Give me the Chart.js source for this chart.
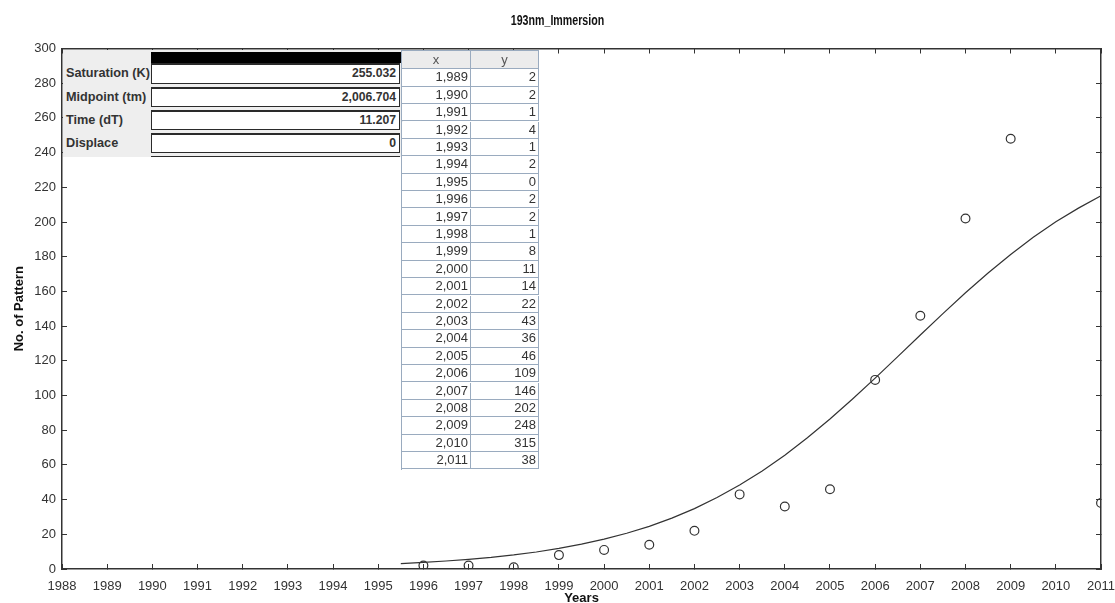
<!DOCTYPE html>
<html>
<head>
<meta charset="utf-8">
<title>193nm_Immersion</title>
<script src="https://cdn.jsdelivr.net/npm/chart.js@4.4.1/dist/chart.umd.min.js"></script>
<style>
  html, body { margin: 0; padding: 0; background: #ffffff; }
  #wrap { position: relative; width: 1115px; height: 603px; overflow: hidden; background: #ffffff; }
  #chart { position: absolute; left: 0; top: 0; }
  #heading {
    position: absolute; left: 0; top: 11px; width: 1115px; text-align: center;
    font: bold 14px "Liberation Sans", Arial, sans-serif; color: #111111; line-height: 18px;
  }
  #heading span { display: inline-block; transform: scaleX(0.76); transform-origin: 50% 50%; }
  #params {
    position: absolute; left: 63px; top: 50px; width: 340px; height: 107px;
    background: #eeeeee; overflow: hidden;
    font: bold 12.7px "Liberation Sans", Arial, sans-serif; color: #333333;
  }
  #params .bar { position: absolute; left: 88px; top: 1.7px; width: 250px; height: 11px; background: #000000; }
  #params .lbl { position: absolute; left: 3px; width: 84px; white-space: nowrap; }
  #params .box {
    position: absolute; left: 88px; width: 249px; box-sizing: border-box;
    background: #ffffff; border: 1px solid #2a2a2a; border-top-width: 2px;
    text-align: right; padding-right: 3px; white-space: nowrap;
    font: bold 12.2px "Liberation Sans", Arial, sans-serif; color: #333333;
  }
  #grid {
    position: absolute; left: 401px; top: 50px; width: 137px;
    border-left: 1px solid #9aabbf; border-top: 1px solid #9aabbf;
    font: 13px "Liberation Sans", Arial, sans-serif; color: #333333;
  }
  #grid .cell {
    position: absolute; box-sizing: border-box; white-space: nowrap;
    border-right: 1px solid #9aabbf; border-bottom: 1px solid #9aabbf;
    text-align: right; padding-right: 2px; background: #ffffff;
  }
  #grid .head { background: #ececec; text-align: center; padding-right: 0; color: #555555; }
</style>
</head>
<body>
<div id="wrap">
  <canvas id="chart" width="1115" height="603"></canvas>
  <div id="heading"><span>193nm_Immersion</span></div>
  <div id="params"></div>
  <div id="grid"></div>
</div>
<script>
// Observed counts per year (table on the chart)
const tableYears  = [1989, 1990, 1991, 1992, 1993, 1994, 1995, 1996, 1997, 1998, 1999, 2000,
                     2001, 2002, 2003, 2004, 2005, 2006, 2007, 2008, 2009, 2010, 2011];
const tableCounts = [2, 2, 1, 4, 1, 2, 0, 2, 2, 1, 8, 11,
                     14, 22, 43, 36, 46, 109, 146, 202, 248, 315, 38];

// Only these years are drawn as markers
const firstMarkerYear = 1996;

// Fitted growth curve
const curveYears  = [1995.5, 1996, 1996.5, 1997, 1997.5, 1998, 1998.5, 1999, 1999.5, 2000, 2000.5,
                     2001, 2001.5, 2002, 2002.5, 2003, 2003.5, 2004, 2004.5, 2005, 2005.5, 2006,
                     2006.5, 2007, 2007.5, 2008, 2008.5, 2009, 2009.5, 2010, 2010.5, 2011];
const curveValues = [3.1, 3.8, 4.6, 5.6, 6.7, 8.1, 9.8, 11.9, 14.3, 17.2, 20.6,
                     24.6, 29.3, 34.8, 41.2, 48.4, 56.5, 65.6, 75.6, 86.5, 98.0, 110.0,
                     122.4, 134.9, 147.2, 159.2, 170.6, 181.3, 191.2, 200.1, 208.0, 215.1];

// Fit parameters shown in the panel
const paramLabels = ["Saturation (K)", "Midpoint (tm)", "Time (dT)", "Displace"];
const paramValues = ["255.032", "2,006.704", "11.207", "0"];

// Axis ranges and tick spacing
const xRange = [1988, 2011];
const xStep = 1;
const yRange = [0, 300];
const yStep = 20;

const FONT = '"Liberation Sans", Arial, Helvetica, sans-serif';
const INK = '#333333';

function fmtThousands(v) {
  return v.toLocaleString('en-US');
}

// ---- parameter panel ----
(function buildParams() {
  const panel = document.getElementById('params');
  const bar = document.createElement('div');
  bar.className = 'bar';
  panel.appendChild(bar);
  const rowTop = 13.3, rowGap = 23.2, rowH = 20.6;
  paramLabels.forEach((label, i) => {
    const top = rowTop + i * rowGap;
    const l = document.createElement('div');
    l.className = 'lbl';
    l.style.top = top + 'px';
    l.style.lineHeight = rowH + 'px';
    l.textContent = label;
    panel.appendChild(l);
    const b = document.createElement('div');
    b.className = 'box';
    b.style.top = top + 'px';
    b.style.height = rowH + 'px';
    b.style.lineHeight = (rowH - 3) + 'px';
    b.textContent = paramValues[i];
    panel.appendChild(b);
  });
  // next (scrolled) row, only its top edge shows
  const extra = document.createElement('div');
  extra.className = 'box';
  extra.style.top = (rowTop + paramLabels.length * rowGap) + 'px';
  extra.style.height = rowH + 'px';
  panel.appendChild(extra);
})();

// ---- x / y table ----
(function buildGrid() {
  const grid = document.getElementById('grid');
  const colLeft = [0, 69], colW = [69, 68];
  const headH = 18.3, rowH = 17.4;
  function cell(text, left, top, w, h, cls) {
    const d = document.createElement('div');
    d.className = 'cell' + (cls ? ' ' + cls : '');
    d.style.left = left + 'px';
    d.style.top = top + 'px';
    d.style.width = w + 'px';
    d.style.height = h + 'px';
    d.style.lineHeight = (h - 1) + 'px';
    d.textContent = text;
    grid.appendChild(d);
  }
  cell('x', colLeft[0], 0, colW[0], headH, 'head');
  cell('y', colLeft[1], 0, colW[1], headH, 'head');
  tableYears.forEach((yr, i) => {
    const top = headH + i * rowH;
    cell(fmtThousands(yr), colLeft[0], top, colW[0], rowH);
    cell(String(tableCounts[i]), colLeft[1], top, colW[1], rowH);
  });
  grid.style.height = (headH + tableYears.length * rowH) + 'px';
})();

// ---- chart ----
const markerPoints = tableYears
  .map((yr, i) => ({ x: yr, y: tableCounts[i] }))
  .filter(p => p.x >= firstMarkerYear);
const curvePoints = curveYears.map((yr, i) => ({ x: yr, y: curveValues[i] }));

// tall line box pushes the year labels below the inward tick marks
const xTickFont = { family: FONT, size: 13, lineHeight: 3.45 };
const yTickFont = { family: FONT, size: 13 };
const titleFont = { family: FONT, size: 13, weight: 'bold', lineHeight: 1 };

new Chart(document.getElementById('chart'), {
  type: 'scatter',
  data: {
    datasets: [
      {
        type: 'line',
        label: 'Fit',
        data: curvePoints,
        borderColor: INK,
        borderWidth: 1.2,
        pointRadius: 0,
        fill: false,
        tension: 0,
        clip: 0
      },
      {
        type: 'scatter',
        label: 'Patterns',
        data: markerPoints,
        pointStyle: 'circle',
        pointRadius: 4.4,
        borderWidth: 1.2,
        borderColor: INK,
        backgroundColor: 'rgba(0,0,0,0)',
        clip: 0
      }
    ]
  },
  options: {
    responsive: false,
    animation: false,
    devicePixelRatio: 1,
    layout: { padding: { top: 48.5, left: 0, right: 0, bottom: 0 } },
    plugins: {
      legend: { display: false },
      tooltip: { enabled: false },
      title: { display: false }
    },
    scales: {
      x: {
        type: 'linear',
        position: 'bottom',
        min: xRange[0],
        max: xRange[1],
        ticks: {
          stepSize: xStep,
          autoSkip: false,
          maxRotation: 0,
          padding: 0,
          color: INK,
          font: xTickFont,
          callback: v => String(v)
        },
        grid: { drawOnChartArea: false, drawTicks: true, tickLength: -5, tickColor: INK, tickWidth: 1 },
        border: { display: true, color: INK, width: 1.5 },
        title: { display: true, text: 'Years', color: '#111111', font: titleFont, padding: { top: 0, bottom: -2 } },
        afterFit: s => { s.height = 34; }
      },
      xTop: {
        type: 'linear',
        position: 'top',
        min: xRange[0],
        max: xRange[1],
        ticks: { display: false, stepSize: xStep, autoSkip: false },
        grid: { drawOnChartArea: false, drawTicks: true, tickLength: -5, tickColor: INK, tickWidth: 1 },
        border: { display: true, color: INK, width: 1.5 },
        afterFit: s => { s.height = 0; }
      },
      y: {
        type: 'linear',
        position: 'left',
        min: yRange[0],
        max: yRange[1],
        ticks: { stepSize: yStep, padding: 11, color: INK, font: yTickFont },
        grid: { drawOnChartArea: false, drawTicks: true, tickLength: -5, tickColor: INK, tickWidth: 1 },
        border: { display: true, color: INK, width: 1.5 },
        title: { display: true, text: 'No. of Pattern', color: '#111111', font: titleFont, padding: { top: 13, bottom: 0 } },
        afterFit: s => { s.width = 62; }
      },
      yRight: {
        type: 'linear',
        position: 'right',
        min: yRange[0],
        max: yRange[1],
        ticks: { display: false, stepSize: yStep },
        grid: { drawOnChartArea: false, drawTicks: true, tickLength: -5, tickColor: INK, tickWidth: 1 },
        border: { display: true, color: INK, width: 1.5 },
        afterFit: s => { s.width = 0; }
      }
    }
  }
});
</script>
</body>
</html>
